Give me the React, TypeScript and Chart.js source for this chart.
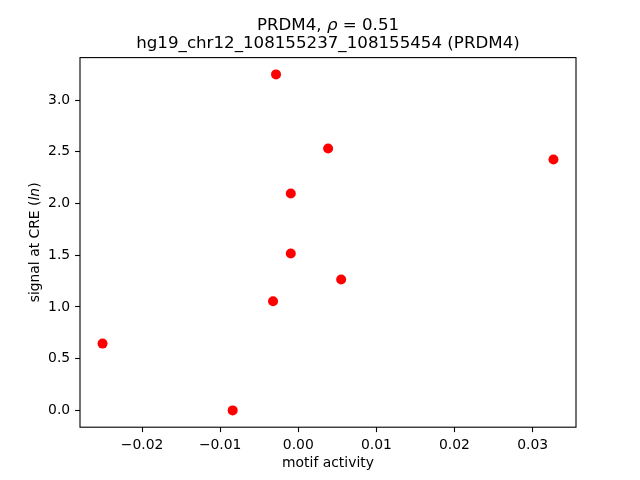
import React, { useEffect, useRef } from "react";
import { Chart, registerables } from "chart.js";

Chart.register(...registerables);

// ---- data ----
const motifActivity = [-0.00285, 0.00382, 0.03267, -0.00096, -0.00096, 0.00549, -0.00323, -0.02506, -0.0084];
const signalAtCRE = [3.249, 2.533, 2.426, 2.097, 1.517, 1.265, 1.055, 0.646, 0.0];
const xTickValues = [-0.02, -0.01, 0.0, 0.01, 0.02, 0.03];
const yTickValues = [0.0, 0.5, 1.0, 1.5, 2.0, 2.5, 3.0];
const titleGene = "PRDM4, ";
const titleRhoSymbol = "\u03c1";
const titleRhoValue = " = 0.51";
const titleRegion = "hg19_chr12_108155237_108155454 (PRDM4)";
const xLabel = "motif activity";
const yLabelStart = "signal at CRE (";
const yLabelItalic = "ln";
const yLabelEnd = ")";

const FONT = '"DejaVu Sans", "Liberation Sans", sans-serif';

function padRange(values: number[]) {
  const lo = Math.min(...values);
  const hi = Math.max(...values);
  const m = (hi - lo) * 0.05;
  return { min: lo - m, max: hi + m };
}

const textPlugin = {
  id: "mplText",
  afterDraw(chart: any) {
    const { ctx, chartArea } = chart;
    const { left, right, top, bottom } = chartArea;
    const cx = (left + right) / 2;
    ctx.save();
    // frame (all four spines)
    ctx.strokeStyle = "#000";
    ctx.lineWidth = 1.1;
    ctx.strokeRect(left, top, right - left, bottom - top);

    ctx.fillStyle = "#000";
    ctx.textBaseline = "alphabetic";
    ctx.textAlign = "left";

    // title line 1 with italic rho
    const normal16 = `16.67px ${FONT}`;
    const italic16 = `italic 16.67px ${FONT}`;
    ctx.font = normal16;
    const w1 = ctx.measureText(titleGene).width;
    const w3 = ctx.measureText(titleRhoValue).width;
    ctx.font = italic16;
    const w2 = ctx.measureText(titleRhoSymbol).width;
    let x = cx - (w1 + w2 + w3) / 2;
    const yLine1 = 29.5;
    ctx.font = normal16;
    ctx.fillText(titleGene, x, yLine1);
    x += w1;
    ctx.font = italic16;
    ctx.fillText(titleRhoSymbol, x, yLine1);
    x += w2;
    ctx.font = normal16;
    ctx.fillText(titleRhoValue, x, yLine1);

    // title line 2
    ctx.textAlign = "center";
    ctx.font = normal16;
    ctx.fillText(titleRegion, cx, 48);

    // x label
    ctx.font = `13.9px ${FONT}`;
    ctx.fillText(xLabel, cx, bottom + 39.8);

    // y label (rotated) with italic "ln"
    const normal14 = `13.9px ${FONT}`;
    const italic14 = `italic 13.9px ${FONT}`;
    ctx.font = normal14;
    const a = ctx.measureText(yLabelStart).width;
    const c = ctx.measureText(yLabelEnd).width;
    ctx.font = italic14;
    const b = ctx.measureText(yLabelItalic).width;
    const total = a + b + c;
    ctx.translate(39, (top + bottom) / 2);
    ctx.rotate(-Math.PI / 2);
    ctx.textAlign = "left";
    let px = -total / 2;
    ctx.font = normal14;
    ctx.fillText(yLabelStart, px, 0);
    px += a;
    ctx.font = italic14;
    ctx.fillText(yLabelItalic, px, 0);
    px += b;
    ctx.font = normal14;
    ctx.fillText(yLabelEnd, px, 0);
    ctx.restore();
  },
};

export default function App() {
  const canvasRef = useRef<HTMLCanvasElement | null>(null);

  useEffect(() => {
    if (!canvasRef.current) return;
    const xr = padRange(motifActivity);
    const yr = padRange(signalAtCRE);
    const points = motifActivity.map((v, i) => ({ x: v, y: signalAtCRE[i] }));
    const tickFont = { family: FONT, size: 13.9 };

    const chart = new Chart(canvasRef.current, {
      type: "scatter",
      data: {
        datasets: [
          {
            data: points,
            backgroundColor: "#ff0000",
            borderWidth: 0,
            pointRadius: 5,
            pointHoverRadius: 5,
          },
        ],
      },
      options: {
        animation: false,
        responsive: false,
        maintainAspectRatio: false,
        devicePixelRatio: 1,
        layout: { padding: { left: 0, top: 57.6, right: 64, bottom: 0 } },
        plugins: {
          legend: { display: false },
          title: { display: false },
          tooltip: { enabled: false },
        },
        scales: {
          x: {
            type: "linear",
            min: xr.min,
            max: xr.max,
            afterBuildTicks: (scale: any) => {
              scale.ticks = xTickValues.map((v) => ({ value: v }));
            },
            afterFit: (scale: any) => {
              scale.height = 52.8;
            },
            ticks: {
              font: tickFont,
              color: "#000",
              padding: 4.9,
              maxRotation: 0,
              autoSkip: false,
              callback: (v: any) => {
                const n = Number(v);
                return (n < -1e-12 ? "\u2212" : "") + Math.abs(n).toFixed(2);
              },
            },
            grid: {
              display: true,
              drawOnChartArea: false,
              drawTicks: true,
              tickLength: 4.9,
              tickColor: "#000",
              tickWidth: 1.1,
            },
            border: { display: false },
          },
          y: {
            type: "linear",
            min: yr.min,
            max: yr.max,
            afterBuildTicks: (scale: any) => {
              scale.ticks = yTickValues.map((v) => ({ value: v }));
            },
            afterFit: (scale: any) => {
              scale.width = 80;
            },
            ticks: {
              font: tickFont,
              color: "#000",
              padding: 4.9,
              autoSkip: false,
              callback: (v: any) => Number(v).toFixed(1),
            },
            grid: {
              display: true,
              drawOnChartArea: false,
              drawTicks: true,
              tickLength: 4.9,
              tickColor: "#000",
              tickWidth: 1.1,
            },
            border: { display: false },
          },
        },
      },
      plugins: [textPlugin],
    } as any);

    return () => chart.destroy();
  }, []);

  return (
    <div style={{ position: "absolute", left: 0, top: 0, width: 640, height: 480, background: "#fff" }}>
      <canvas ref={canvasRef} width={640} height={480} style={{ display: "block" }} />
    </div>
  );
}
